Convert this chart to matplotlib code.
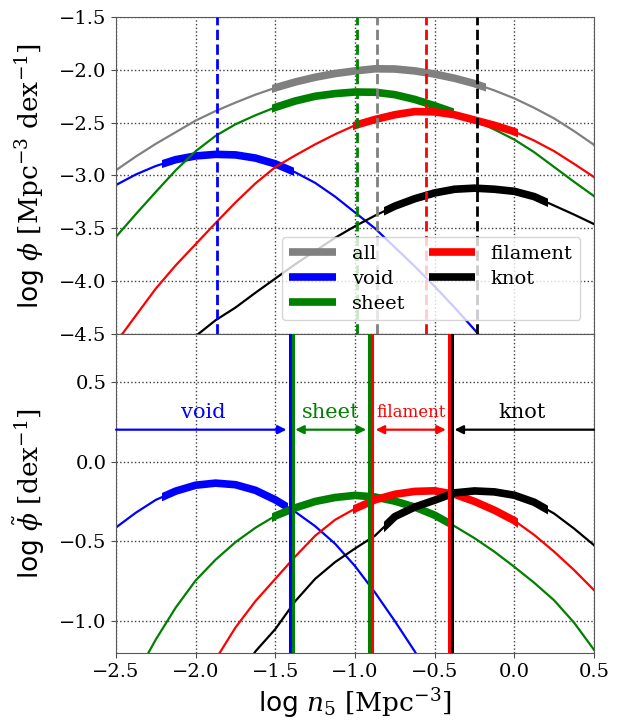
import numpy as np
import matplotlib
matplotlib.use("Agg")
import matplotlib.pyplot as plt
from matplotlib.patches import Rectangle

plt.rcParams["font.family"] = "DejaVu Serif"
plt.rcParams["mathtext.fontset"] = "dejavuserif"

nan = np.nan

# density grid, log n5 [Mpc^-3], step 0.125
log_n5 = [-2.5, -2.375, -2.25, -2.125, -2.0, -1.875, -1.75, -1.625, -1.5, -1.375,
          -1.25, -1.125, -1.0, -0.875, -0.75, -0.625, -0.5, -0.375, -0.25, -0.125,
          0.0, 0.125, 0.25, 0.375, 0.5]

# upper panel: log phi [Mpc^-3 dex^-1]
phi_all = [-2.95, -2.82, -2.70, -2.59, -2.48, -2.39, -2.31, -2.235, -2.17, -2.115,
           -2.07, -2.035, -2.01, -1.99, -1.992, -2.01, -2.04, -2.08, -2.13, -2.195,
           -2.27, -2.36, -2.46, -2.58, -2.71]
phi_void = [-3.09, -2.99, -2.91, -2.85, -2.815, -2.80, -2.805, -2.835, -2.89, -2.97,
            -3.07, -3.20, -3.35, -3.50, -3.68, -3.86, -4.05, -4.25, -4.46, -4.68,
            -4.90, nan, nan, nan, nan]
phi_sheet = [-3.58, -3.365, -3.155, -2.95, -2.77, -2.625, -2.515, -2.43, -2.355, -2.295,
             -2.25, -2.225, -2.21, -2.212, -2.235, -2.28, -2.34, -2.405, -2.48, -2.565,
             -2.66, -2.78, -2.92, -3.06, -3.195]
phi_filament = [-4.58, -4.325, -4.07, -3.85, -3.65, -3.45, -3.255, -3.075, -2.92, -2.81,
                -2.705, -2.61, -2.525, -2.47, -2.425, -2.395, -2.398, -2.425, -2.475, -2.525,
                -2.585, -2.67, -2.77, -2.89, -3.015]
phi_knot = [nan, nan, nan, -4.68, -4.52, -4.37, -4.25, -4.11, -3.975, -3.84,
            -3.715, -3.59, -3.48, -3.38, -3.29, -3.22, -3.165, -3.13, -3.12, -3.13,
            -3.15, -3.20, -3.285, -3.37, -3.46]

# lower panel: log phi-tilde [dex^-1]
tphi_void = [-0.413, -0.32, -0.24, -0.185, -0.148, -0.135, -0.145, -0.18, -0.24, -0.315,
             -0.405, -0.515, -0.655, -0.82, -1.0, -1.19, -1.40, nan, nan, nan,
             nan, nan, nan, nan, nan]
tphi_sheet = [-1.60, -1.34, -1.115, -0.915, -0.745, -0.615, -0.505, -0.415, -0.34, -0.29,
              -0.25, -0.225, -0.212, -0.222, -0.248, -0.285, -0.336, -0.405, -0.48, -0.565,
              -0.66, -0.76, -0.87, -1.01, -1.18]
tphi_filament = [nan, nan, nan, -1.70, -1.45, -1.24, -1.04, -0.875, -0.735, -0.595,
                 -0.465, -0.365, -0.295, -0.24, -0.205, -0.187, -0.183, -0.205, -0.25, -0.305,
                 -0.37, -0.46, -0.565, -0.68, -0.806]
tphi_knot = [nan, nan, nan, nan, nan, -1.62, -1.38, -1.19, -1.05, -0.875,
             -0.735, -0.63, -0.545, -0.465, -0.345, -0.285, -0.242, -0.196, -0.184, -0.19,
             -0.211, -0.255, -0.326, -0.42, -0.524]

# density ranges drawn with thick lines
thick_top = {"all": (-1.52, -0.18), "void": (-2.21, -1.38), "sheet": (-1.52, -0.38),
             "filament": (-1.01, 0.02), "knot": (-0.82, 0.21)}
thick_bottom = {"void": (-2.21, -1.42), "sheet": (-1.52, -0.38),
                "filament": (-1.01, 0.02), "knot": (-0.82, 0.21)}

# peak densities (dashed lines, upper panel)
peak_pos = {"void": -1.865, "sheet": -0.985, "all": -0.865, "filament": -0.555, "knot": -0.235}

# environment boundaries (solid lines, lower panel)
bounds = [("void", -1.41), ("sheet", -1.39), ("sheet", -0.911), ("filament", -0.893),
          ("filament", -0.412), ("knot", -0.394)]

# region arrows: (label, x_from, x_to, style, label_x, fontsize)
regions = [("void", -2.5, -1.43, "-|>", -1.95, 15),
           ("sheet", -1.375, -0.93, "<|-|>", -1.15, 15),
           ("filament", -0.87, -0.43, "<|-|>", -0.65, 12),
           ("knot", 0.5, -0.375, "-|>", 0.05, 15)]

colors = {"all": "gray", "void": "blue", "sheet": "green", "filament": "red", "knot": "black"}

fig = plt.figure(figsize=(6.22, 7.21), dpi=100)
ax1 = fig.add_axes([0.1865, 0.5368, 0.7685, 0.4396])
ax2 = fig.add_axes([0.1865, 0.0943, 0.7685, 0.4425], sharex=ax1)

x = np.array(log_n5)


def draw(ax, y, name, rng, label=None):
    c = colors[name]
    ax.plot(x, y, color=c, lw=1.6, zorder=2)
    line, = ax.plot(x, y, color=c, lw=5.5, solid_capstyle="butt", zorder=2, label=label)
    clip = Rectangle((rng[0], -10), rng[1] - rng[0], 20, transform=ax.transData)
    line.set_clip_path(clip)


top_series = [("all", phi_all), ("void", phi_void), ("sheet", phi_sheet),
              ("filament", phi_filament), ("knot", phi_knot)]
for name, y in top_series:
    draw(ax1, y, name, thick_top[name], label=name)
for name, xp in peak_pos.items():
    ax1.axvline(xp, color=colors[name], ls="--", lw=2, zorder=3)

bottom_series = [("void", tphi_void), ("sheet", tphi_sheet),
                 ("filament", tphi_filament), ("knot", tphi_knot)]
for name, y in bottom_series:
    draw(ax2, y, name, thick_bottom[name])
for name, xb in bounds:
    ax2.axvline(xb, color=colors[name], lw=2.2, zorder=3)

for name, x0, x1, style, lx, fs in regions:
    c = colors[name]
    ax2.annotate("", xy=(x1, 0.2), xytext=(x0, 0.2),
                 arrowprops=dict(arrowstyle=style + ",head_length=0.5,head_width=0.25",
                                 color=c, lw=1.6, shrinkA=0, shrinkB=0))
    ax2.text(lx, 0.305, name, color=c, fontsize=fs, ha="center", va="center")

handles, labels = ax1.get_legend_handles_labels()
ax1.legend(handles, labels, loc="lower right", ncol=2, fontsize=14, handlelength=2.4,
           borderaxespad=0.7, handletextpad=0.8, columnspacing=1.2, labelspacing=0.35)

ax1.set_xlim(-2.5, 0.5)
ax1.set_ylim(-4.5, -1.5)
ax2.set_ylim(-1.2, 0.8)
ax1.set_yticks([-1.5, -2.0, -2.5, -3.0, -3.5, -4.0, -4.5])
ax2.set_yticks([0.5, 0.0, -0.5, -1.0])
ax2.set_xticks([-2.5, -2.0, -1.5, -1.0, -0.5, 0.0, 0.5])
plt.setp(ax1.get_xticklabels(), visible=False)

for ax in (ax1, ax2):
    ax.grid(True, ls=":", color="0.25", lw=1.0)
    ax.tick_params(labelsize=14, direction="out", color="0.3")
    for s in ax.spines.values():
        s.set_color("0.35")

lab_kw = dict(fontsize=19, family="DejaVu Sans")
ax1.set_ylabel(r"log $\phi$ $[\mathrm{Mpc}^{-3}\ \mathrm{dex}^{-1}]$", **lab_kw)
ax2.set_ylabel(r"log $\tilde{\phi}$ $[\mathrm{dex}^{-1}]$", **lab_kw)
ax2.set_xlabel(r"log $n_5$ $[\mathrm{Mpc}^{-3}]$", labelpad=4, **lab_kw)
ax1.yaxis.set_label_coords(-0.145, 0.5)
ax2.yaxis.set_label_coords(-0.145, 0.5)

fig.savefig("out.png", dpi=100)
